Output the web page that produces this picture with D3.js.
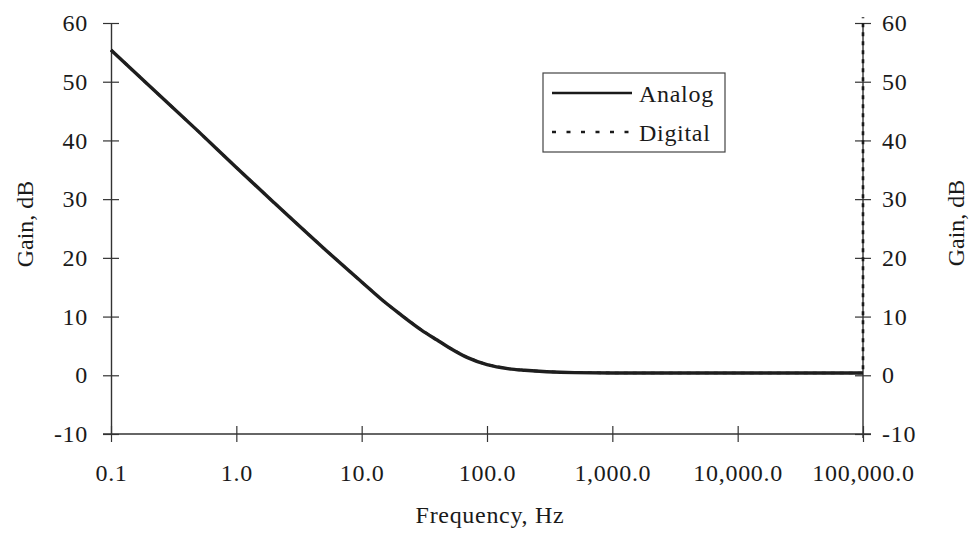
<!DOCTYPE html>
<html>
<head>
<meta charset="utf-8">
<script src="https://cdn.jsdelivr.net/npm/d3@7/dist/d3.min.js"></script>
<style>
  html, body { margin: 0; padding: 0; background: #fff; }
  svg { display: block; }
  text { font-family: "Liberation Serif", "Times New Roman", serif; fill: #1a1a1a; }
</style>
</head>
<body>
<svg id="chart" width="974" height="535"></svg>
<script>
// Frequency response of the analog filter and its digital counterpart
const analogFreq = [0.1, 0.2, 0.5, 1, 2, 5, 10, 15, 20, 30, 40, 50, 70, 100, 150, 200, 300, 500, 1000, 10000, 100000];
const analogGain = [55.4, 49.4, 41.5, 35.4, 29.4, 21.6, 15.9, 12.6, 10.5, 7.7, 6.0, 4.7, 3.0, 1.8, 1.1, 0.85, 0.6, 0.45, 0.4, 0.4, 0.4];

const digitalFreq = [0.1, 0.2, 0.5, 1, 2, 5, 10, 15, 20, 30, 40, 50, 70, 100, 150, 200, 300, 500, 1000, 10000, 100000, 100000];
const digitalGain = [55.4, 49.4, 41.5, 35.4, 29.4, 21.6, 15.9, 12.6, 10.5, 7.7, 6.0, 4.7, 3.0, 1.8, 1.1, 0.85, 0.6, 0.45, 0.4, 0.4, 0.4, 61];

const xTicks = [0.1, 1, 10, 100, 1000, 10000, 100000];
const xTickLabels = ["0.1", "1.0", "10.0", "100.0", "1,000.0", "10,000.0", "100,000.0"];
const yTicks = [-10, 0, 10, 20, 30, 40, 50, 60];
const yTickLabels = ["-10", "0", "10", "20", "30", "40", "50", "60"];
const seriesNames = ["Analog", "Digital"];

const svg = d3.select("#chart");
const plotL = 111, plotR = 863, plotT = 23, plotB = 434;

const x = d3.scaleLog().domain([0.1, 100000]).range([plotL, plotR]);
const y = d3.scaleLinear().domain([-10, 60]).range([plotB, plotT]);
const yRight = d3.scaleLinear().domain([-10, 60]).range([plotB, plotT]);

const axisColor = "#333";
const fontSize = 24;
const spacing = 0.7;

function styleAxis(g) {
  g.select(".domain").attr("stroke", axisColor).attr("stroke-width", 1.4);
  g.selectAll(".tick line").attr("stroke", axisColor).attr("stroke-width", 1.2);
  g.selectAll("text")
    .attr("font-size", fontSize)
    .attr("letter-spacing", spacing)
    .attr("font-family", "Liberation Serif, serif")
    .attr("fill", "#1a1a1a");
}

// Bottom axis (log frequency)
const gx = svg.append("g")
  .attr("transform", `translate(0,${plotB})`)
  .call(d3.axisBottom(x).tickValues(xTicks).tickSizeOuter(0).tickSize(0)
    .tickFormat((d, i) => xTickLabels[i]));
gx.select(".domain").attr("d", `M${plotL - 8},0H${plotR + 8}`);
gx.selectAll(".tick line").attr("y1", -8).attr("y2", 8);
gx.selectAll(".tick text").attr("y", 39).attr("dy", "0.35em");
styleAxis(gx);

// Left axis
const gy = svg.append("g")
  .attr("transform", `translate(${plotL},0)`)
  .call(d3.axisLeft(y).tickValues(yTicks).tickSizeOuter(0).tickSize(0)
    .tickFormat((d, i) => yTickLabels[i]));
gy.selectAll(".tick line").attr("x1", -8).attr("x2", 8);
gy.selectAll(".tick text").attr("x", -23);
styleAxis(gy);

// Right axis
const gyr = svg.append("g")
  .attr("transform", `translate(${plotR},0)`)
  .call(d3.axisRight(yRight).tickValues(yTicks).tickSizeOuter(0).tickSize(0)
    .tickFormat((d, i) => yTickLabels[i]));
gyr.select(".domain").attr("d", `M0,${plotT}V${plotB + 4}`);
gyr.selectAll(".tick line").attr("x1", -8).attr("x2", 8);
gyr.selectAll(".tick text").attr("x", 19);
styleAxis(gyr);

// Series
const line = d3.line()
  .x(d => x(d[0]))
  .y(d => y(d[1]))
  .curve(d3.curveMonotoneX);

const lineV = d3.line().x(d => x(d[0])).y(d => yRight(d[1]));

const digitalPts = digitalFreq.map((f, i) => [f, digitalGain[i]]);
const analogPts = analogFreq.map((f, i) => [f, analogGain[i]]);

svg.append("path")
  .datum(digitalPts)
  .attr("fill", "none")
  .attr("stroke", "#1a1a1a")
  .attr("stroke-width", 2.6)
  .attr("stroke-dasharray", "4,5")
  .attr("d", lineV);

svg.append("path")
  .datum(analogPts)
  .attr("fill", "none")
  .attr("stroke", "#1e1e1e")
  .attr("stroke-width", 3.4)
  .attr("stroke-linejoin", "round")
  .attr("d", line);

// Legend
const legend = svg.append("g").attr("transform", "translate(543,73)");
legend.append("rect")
  .attr("width", 182).attr("height", 79)
  .attr("fill", "#fff").attr("stroke", "#444").attr("stroke-width", 1.2);
seriesNames.forEach((name, i) => {
  const ly = 20 + i * 39;
  legend.append("line")
    .attr("x1", 9).attr("x2", 89).attr("y1", ly).attr("y2", ly)
    .attr("stroke", "#1a1a1a")
    .attr("stroke-width", i === 0 ? 2.6 : 2.4)
    .attr("stroke-dasharray", i === 0 ? null : "4,10.5");
  legend.append("text")
    .attr("x", 96).attr("y", ly + 9)
    .attr("font-size", fontSize)
    .attr("letter-spacing", spacing)
    .text(name);
});

// Axis titles
svg.append("text")
  .attr("transform", "translate(25,224) rotate(-90)")
  .attr("text-anchor", "middle").attr("dy", "0.35em")
  .attr("font-size", fontSize)
  .text("Gain, dB");

svg.append("text")
  .attr("transform", "translate(956,223) rotate(-90)")
  .attr("text-anchor", "middle").attr("dy", "0.35em")
  .attr("font-size", fontSize)
  .text("Gain, dB");

svg.append("text")
  .attr("x", 490).attr("y", 523)
  .attr("text-anchor", "middle")
  .attr("font-size", fontSize)
  .attr("letter-spacing", spacing)
  .text("Frequency, Hz");
</script>
</body>
</html>
